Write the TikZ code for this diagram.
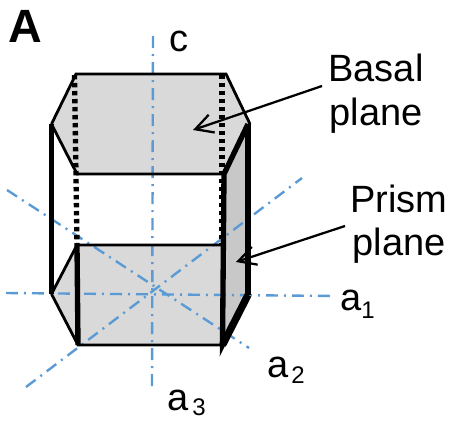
\documentclass[tikz,border=0pt]{standalone}
\usetikzlibrary{arrows.meta}
\usepackage{fontspec}
\setmainfont{Liberation Sans}
\begin{document}
\begin{tikzpicture}[x=0.75pt,y=-0.75pt,
  axisline/.style={draw=axisblue,line width=1.8pt,dash pattern=on 9pt off 4.5pt on 1.5pt off 4.5pt},
  thin edge/.style={line width=2.1pt},
  thick edge/.style={line width=4pt},
  heavy edge/.style={line width=5.5pt},
  dotted edge/.style={line width=4pt,dash pattern=on 3.3pt off 2.7pt},
  lab/.style={inner sep=0pt,font=\fontsize{28.5}{32}\selectfont,align=center},
  sub/.style={inner sep=0pt,font=\fontsize{18}{20}\selectfont},
  pointer/.style={line width=1.7pt,-{Straight Barb[length=13pt,width=14pt,line width=1.7pt]}}]
\definecolor{axisblue}{HTML}{5B9BD5}
\definecolor{facegray}{HTML}{D9D9D9}
\definecolor{sidegray}{HTML}{C8C8C8}
\useasboundingbox (0,0) rectangle (452,421);
% vertices
\coordinate (t1) at (76,74);
\coordinate (t2) at (226,74);
\coordinate (t3) at (250,124);
\coordinate (t4) at (224,174);
\coordinate (t5) at (77,174);
\coordinate (t6) at (51.5,124);
\coordinate (b1) at (77,245);
\coordinate (b2) at (222,245);
\coordinate (b3) at (249,295);
\coordinate (b4) at (222.5,345);
\coordinate (b5) at (78,345);
\coordinate (b6) at (51.5,294);
\coordinate (d1) at (74.5,75);
\coordinate (d2) at (222,75);
\coordinate (r3) at (248,124);
\coordinate (r4) at (248,295);
% faces
\fill[facegray] (t1)--(t2)--(t3)--(t4)--(t5)--(t6)--cycle;
\fill[facegray] (b1)--(b2)--(b4)--(b5)--(b6)--cycle;
\fill[sidegray] (t4)--(r3)--(r4)--(b4)--cycle;
% axes
\coordinate (c1) at (153,36);   \coordinate (c2) at (152,386);
\coordinate (a1s) at (6,293);   \coordinate (a1e) at (335,296);
\coordinate (a2s) at (7,190);   \coordinate (a2e) at (249,348);
\coordinate (a3s) at (26,387);  \coordinate (a3e) at (302,178);
\draw[axisline] (c1)--(c2);
\draw[axisline] (a1s)--(a1e);
\draw[axisline] (a2s)--(a2e);
\draw[axisline] (a3s)--(a3e);
% edges
\draw[thin edge] (t6)--(t1)--(t2)--(t3);
\draw[thin edge] (t6)--(t5)--(t4);
\draw[thin edge] (b6)--(b1)--(b2);
\draw[thin edge] (b6)--(b5)--(b4);
\draw[dotted edge] (d1)--(b1);
\draw[dotted edge] (d2)--(b2);
\draw[thick edge] (t6)--(b6);
\draw[thick edge] (r3)--(r4);
\draw[thick edge] (r3)--(t4)--(b4)--(r4);
\draw[heavy edge] (r4)--(b4);
\draw[thick edge] (b1)--(b5);
% labels
\node[inner sep=0pt,font=\fontsize{35}{38}\selectfont\bfseries] (A) at (25,26) {A};
\node[lab] (c) at (179,41) {c};
\node[lab] (basal) at (376,94) {Basal\\[1pt]plane};
\node[lab] (prism) at (399,224) {Prism\\[0pt]plane};
\node[lab] (a1) at (351,300) {a};
\node[lab] (a2) at (278,367) {a};
\node[lab] (a3) at (178,400) {a};
\node[sub] (n1) at (368,310) {1};
\node[sub] (n2) at (298,375) {2};
\node[sub] (n3) at (199,407) {3};
% pointers
\coordinate (bs) at (322,86);
\coordinate (pb) at (193,130);
\coordinate (ps) at (345,226);
\coordinate (pp) at (236,262);
\draw[pointer] (bs) -- (pb);
\draw[pointer] (ps) -- (pp);
\end{tikzpicture}
\end{document}
